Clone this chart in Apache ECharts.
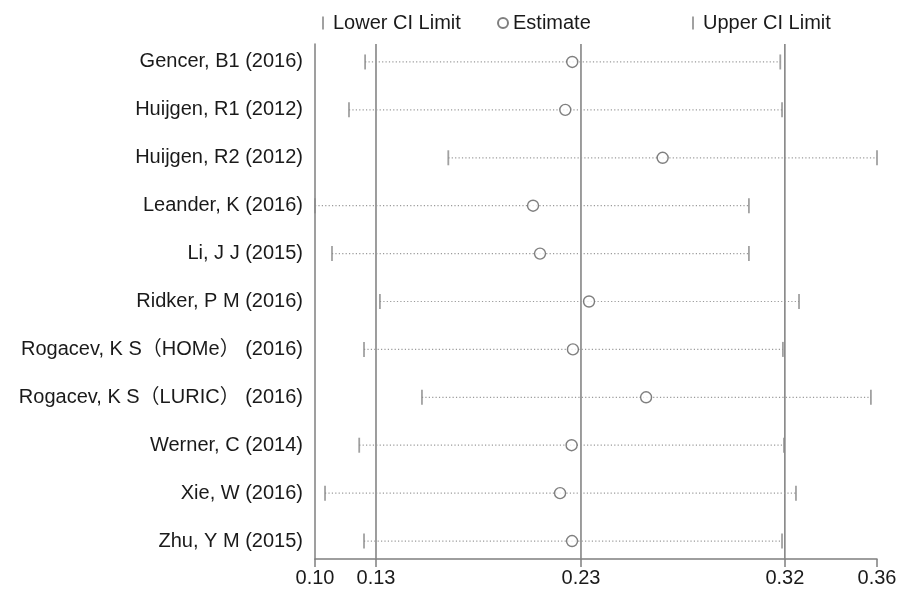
<!DOCTYPE html>
<html>
<head>
<meta charset="utf-8">
<script src="https://cdn.jsdelivr.net/npm/echarts@6/dist/echarts.min.js"></script>
<style>
  html, body { margin: 0; padding: 0; background: #fff; }
  #chart { width: 905px; height: 589px; }
</style>
</head>
<body>
<div id="chart"></div>
<script>
// studies, top to bottom
const studies = [
  'Gencer, B1 (2016)',
  'Huijgen, R1 (2012)',
  'Huijgen, R2 (2012)',
  'Leander, K (2016)',
  'Li, J J (2015)',
  'Ridker, P M (2016)',
  'Rogacev, K S（HOMe） (2016)',
  'Rogacev, K S（LURIC） (2016)',
  'Werner, C (2014)',
  'Xie, W (2016)',
  'Zhu, Y M (2015)'
]
const lowerCI = [0.1270, 0.1196, 0.1652, 0.1040, 0.1118, 0.1338, 0.1265, 0.1531, 0.1243, 0.1086, 0.1265]
const estimate = [0.2221, 0.2189, 0.2636, 0.2041, 0.2073, 0.2298, 0.2224, 0.2560, 0.2218, 0.2165, 0.2220]
const upperCI = [0.3176, 0.3184, 0.3620, 0.3032, 0.3032, 0.3262, 0.3188, 0.3592, 0.3193, 0.3248, 0.3184]

// overall lower / estimate / upper (reference lines)
const overall = [0.1320, 0.2261, 0.3197]
const axisMin = 0.104
const axisMax = 0.362
const xTicks = [axisMin, ...overall, axisMax]

const font = '"Liberation Sans", Arial, "Noto Sans CJK SC", sans-serif'
const rows = studies.map((s, i) => i + 1)
const yMin = 0.625
const yMax = 11.375

const chart = echarts.init(document.getElementById('chart'), null, { renderer: 'canvas' })

const option = {
  backgroundColor: '#fff',
  animation: false,
  textStyle: { fontFamily: font },
  grid: { left: 315, right: 28, top: 44, bottom: 30 },
  legend: [
    {
      left: 317, top: 8, itemWidth: 2, itemHeight: 13,
      data: [{ name: 'Lower CI Limit', icon: 'rect' }],
      textStyle: { fontSize: 20, color: '#1a1a1a', fontFamily: font, padding: [0, 0, 0, 4] }
    },
    {
      left: 492, top: 8, itemWidth: 10, itemHeight: 10,
      data: [{ name: 'Estimate', icon: 'circle' }],
      textStyle: { fontSize: 20, color: '#1a1a1a', fontFamily: font }
    },
    {
      left: 687, top: 8, itemWidth: 2, itemHeight: 13,
      data: [{ name: 'Upper CI Limit', icon: 'rect' }],
      textStyle: { fontSize: 20, color: '#1a1a1a', fontFamily: font, padding: [0, 0, 0, 4] }
    }
  ],
  xAxis: {
    type: 'value',
    min: axisMin,
    max: axisMax,
    splitLine: { show: false },
    axisLine: { show: true, lineStyle: { color: '#7f7f7f', width: 1.5 } },
    axisTick: { show: true, customValues: xTicks, length: 8, lineStyle: { color: '#7f7f7f', width: 1.5 } },
    axisLabel: {
      customValues: xTicks,
      formatter: v => v.toFixed(2),
      fontSize: 20, color: '#1a1a1a', margin: 9, fontFamily: font
    }
  },
  yAxis: {
    type: 'value',
    inverse: true,
    min: yMin,
    max: yMax,
    splitLine: { show: false },
    axisLine: { show: true, lineStyle: { color: '#7f7f7f', width: 1.5 } },
    axisTick: { show: false },
    axisLabel: {
      customValues: rows,
      formatter: v => studies[Math.round(v) - 1],
      fontSize: 20, color: '#1a1a1a', margin: 12, fontFamily: font
    }
  },
  series: [
    {
      // overall reference lines
      name: 'overall',
      type: 'custom',
      silent: true,
      encode: { x: 0 },
      data: overall.map(v => [v]),
      renderItem: function (params, api) {
        const a = api.coord([api.value(0), yMin])
        const b = api.coord([api.value(0), yMax])
        return {
          type: 'line',
          shape: { x1: a[0], y1: a[1], x2: b[0], y2: b[1] },
          style: { stroke: '#858585', lineWidth: 1.6 }
        }
      },
      z: 1
    },
    {
      // dotted CI lines
      name: 'ci',
      type: 'custom',
      silent: true,
      encode: { x: [0, 1], y: 2 },
      data: studies.map((s, i) => [lowerCI[i], upperCI[i], i + 1]),
      renderItem: function (params, api) {
        const a = api.coord([api.value(0), api.value(2)])
        const b = api.coord([api.value(1), api.value(2)])
        return {
          type: 'line',
          shape: { x1: a[0], y1: a[1], x2: b[0], y2: b[1] },
          style: { stroke: '#9a9a9a', lineWidth: 1.2, lineDash: [1.2, 2.2] }
        }
      },
      z: 2
    },
    {
      name: 'Lower CI Limit',
      type: 'scatter',
      symbol: 'rect',
      symbolSize: [1.8, 15],
      itemStyle: { color: '#8a8a8a' },
      data: lowerCI.map((v, i) => [v, i + 1]),
      z: 3
    },
    {
      name: 'Upper CI Limit',
      type: 'scatter',
      symbol: 'rect',
      symbolSize: [1.8, 15],
      itemStyle: { color: '#8a8a8a' },
      data: upperCI.map((v, i) => [v, i + 1]),
      z: 3
    },
    {
      name: 'Estimate',
      type: 'scatter',
      symbol: 'circle',
      symbolSize: 11,
      itemStyle: { color: '#fff', borderColor: '#5f5f5f', borderWidth: 1.4 },
      data: estimate.map((v, i) => [v, i + 1]),
      z: 4
    }
  ]
}

chart.setOption(option)
</script>
</body>
</html>
